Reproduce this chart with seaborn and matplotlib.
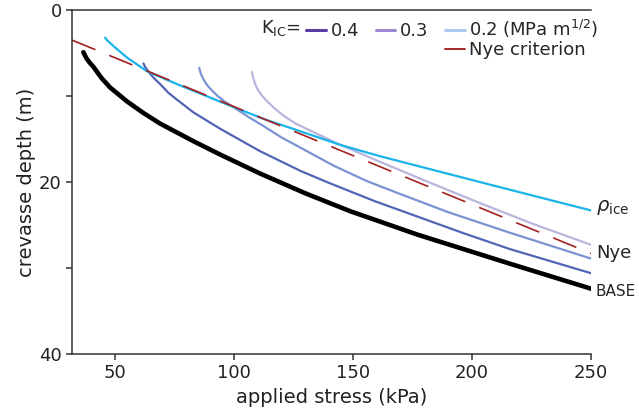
import matplotlib
matplotlib.use("Agg")
import matplotlib.pyplot as plt
import seaborn as sns
from matplotlib.lines import Line2D

# values (stress in kPa, depth in m)
base_stress = [36.9, 37.6, 38.3, 39.5, 41.1, 44.5, 48.1, 55.1, 62.0, 69.1, 83.1, 94.3, 111.0, 130.0, 149.0, 177.0, 216.0, 250.0]
base_depth = [4.9, 5.3, 5.65, 6.1, 6.6, 7.9, 9.0, 10.6, 11.95, 13.2, 15.25, 16.8, 19.0, 21.3, 23.4, 26.1, 29.5, 32.4]

k04_stress = [62.1, 62.8, 63.8, 65.2, 66.8, 69.1, 72.5, 76.1, 83.1, 94.3, 111.0, 128.0, 140.0, 159.0, 177.0, 196.0, 216.0, 250.0]
k04_depth = [6.2, 6.6, 7.0, 7.5, 8.0, 8.6, 9.6, 10.4, 11.9, 13.8, 16.4, 18.7, 20.1, 22.2, 24.0, 25.9, 27.8, 30.6]

k03_stress = [85.5, 86.2, 87.2, 88.5, 90.0, 92.9, 96.0, 100.0, 106.0, 112.0, 120.0, 128.0, 142.0, 156.0, 170.0, 190.0, 216.0, 250.0]
k03_depth = [6.7, 7.4, 8.0, 8.6, 9.1, 9.9, 10.6, 11.3, 12.4, 13.4, 14.8, 16.0, 18.1, 19.9, 21.4, 23.5, 25.9, 28.9]

k02_stress = [107.6, 108.2, 109.0, 110.2, 112.0, 114.0, 117.0, 121.0, 126.0, 132.0, 145.0, 161.0, 180.0, 203.0, 225.0, 250.0]
k02_depth = [7.2, 7.9, 8.6, 9.3, 10.0, 10.6, 11.4, 12.3, 13.2, 14.0, 15.7, 17.6, 19.8, 22.4, 24.8, 27.3]

rho_stress = [46.0, 46.8, 50.0, 55.1, 63.5, 76.1, 85.9, 99.2, 113.0, 128.0, 145.0, 161.5, 190.8, 211.8, 250.0]
rho_depth = [3.2, 3.5, 4.3, 5.5, 7.1, 8.6, 9.7, 11.2, 12.7, 14.1, 15.7, 17.0, 19.1, 20.6, 23.3]

nye_stress = [32.2, 250.0]
nye_depth = [3.5, 28.3]

sns.set_style("ticks")
plt.rcParams["font.family"] = ["DejaVu Sans"]
plt.rcParams["mathtext.fontset"] = "dejavusans"
plt.rcParams["axes.edgecolor"] = "#333333"

fig, ax = plt.subplots(figsize=(6.39, 4.20), dpi=100)
fig.subplots_adjust(left=0.113, right=0.925, top=0.976, bottom=0.157)

sns.lineplot(x=base_stress, y=base_depth, color="black", lw=3.3, ax=ax)
sns.lineplot(x=k04_stress, y=k04_depth, color="#5264b4", lw=1.6, ax=ax)
sns.lineplot(x=k03_stress, y=k03_depth, color="#7c92d2", lw=1.6, ax=ax)
sns.lineplot(x=k02_stress, y=k02_depth, color="#b9b5dc", lw=1.6, ax=ax)
sns.lineplot(x=rho_stress, y=rho_depth, color="#1ab4ea", lw=1.6, ax=ax)
ax.plot(nye_stress, nye_depth, color="#a52020", lw=1.2, dashes=(15, 9))

ax.set_xlim(32.2, 250)
ax.set_ylim(40, 0)
ax.set_xticks([50, 100, 150, 200, 250])
ax.set_yticks([0, 20, 40])
ax.set_yticks([10, 30], minor=True)
ax.tick_params(axis="both", which="both", labelsize=13, length=4, width=1.1,
               color="#333333", labelcolor="#222222")
ax.set_xlabel("applied stress (kPa)", fontsize=14, labelpad=4, color="#222222")
ax.set_ylabel("crevasse depth (m)", fontsize=14, labelpad=2, color="#222222")
ax.spines["right"].set_visible(False)
for s in ["left", "bottom", "top"]:
    ax.spines[s].set_linewidth(1.1)

# labels at the right-hand end of the lines
ax.text(252, rho_depth[-1] - 0.3, r"$\rho_{\mathrm{ice}}$", fontsize=14, va="center", clip_on=False)
ax.text(252, nye_depth[-1] - 0.1, "Nye", fontsize=13, va="center", clip_on=False)
ax.text(252, base_depth[-1] + 0.3, "BASE", fontsize=11, va="center", clip_on=False)

# legend
blank = Line2D([], [], color="none")
handles = [
    Line2D([], [], color="#5b3da6", lw=2.2), blank,
    Line2D([], [], color="#9d86d1", lw=2.2), blank,
    Line2D([], [], color="#a9c9ef", lw=2.2),
    Line2D([], [], color="#a52a2a", lw=1.4),
]
labels = ["0.4", " ", "0.3", " ", r"0.2 (MPa m$^{1/2}$)", "Nye criterion"]
leg = ax.legend(handles, labels, ncol=3, frameon=False, fontsize=13,
                handlelength=1.1, handletextpad=0.25, columnspacing=0.9,
                labelspacing=0.05, loc="upper right", borderpad=0,
                borderaxespad=0, bbox_to_anchor=(1.0135, 0.977))
ax.annotate(r"K$_{\mathrm{IC}}$=", xy=(0, 0.75), xycoords=leg,
            xytext=(-4, 0), textcoords="offset points",
            fontsize=13, va="center", ha="right")

fig.savefig("out.png", dpi=100)
